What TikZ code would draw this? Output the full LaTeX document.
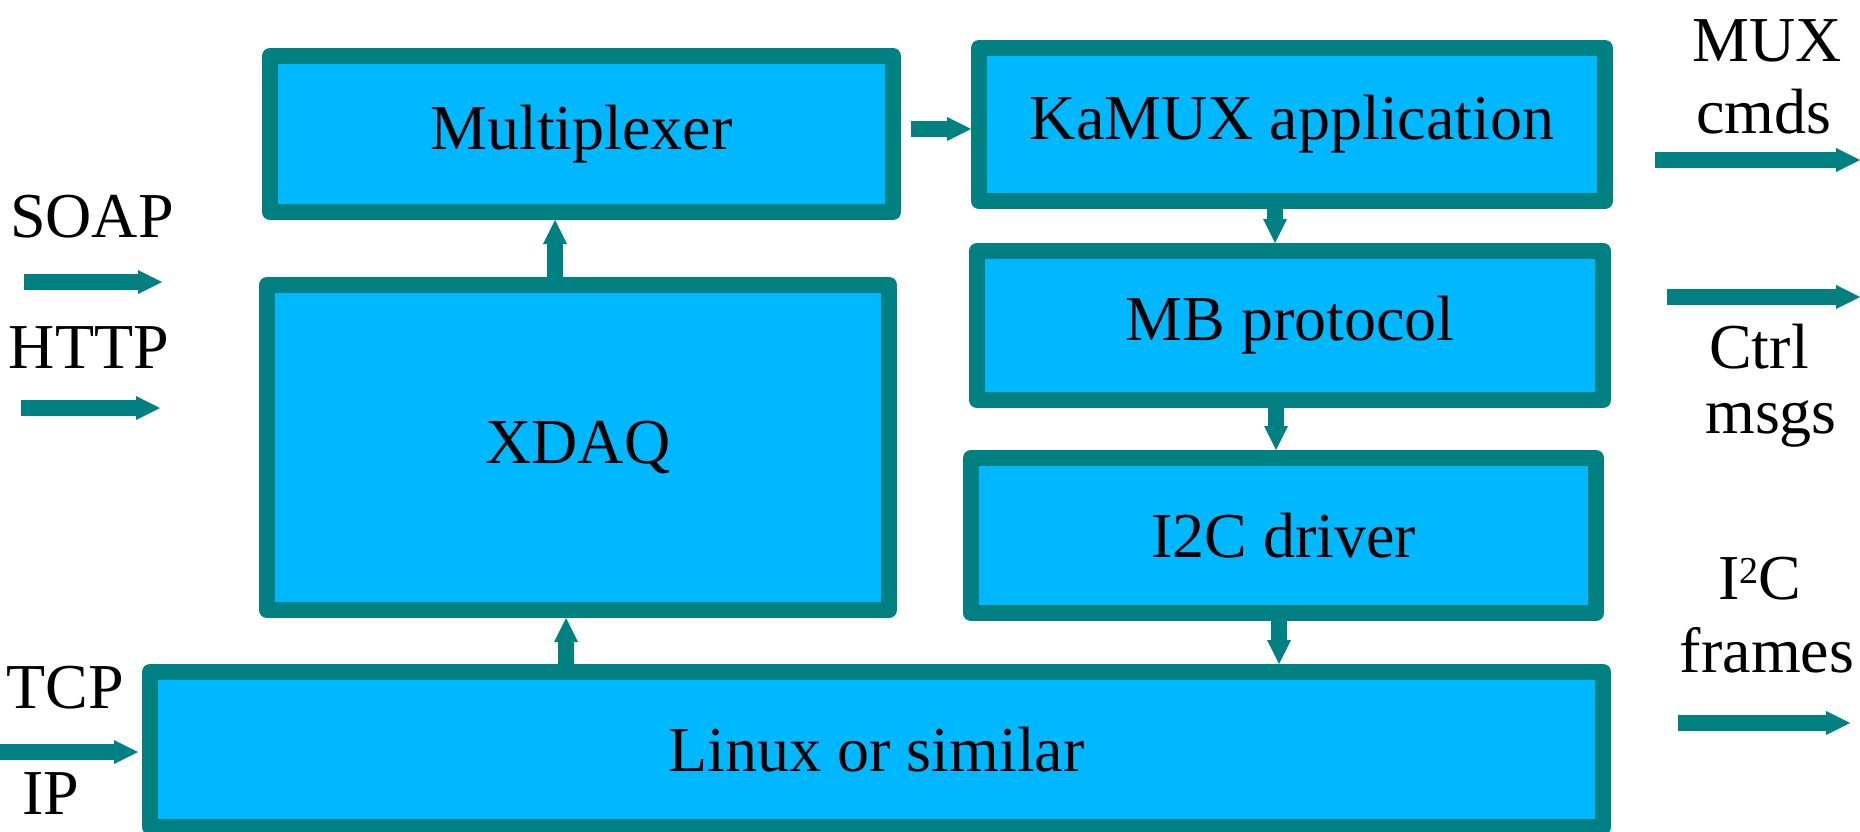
\documentclass[tikz,border=0pt]{standalone}
\usepackage{fontspec}
\setmainfont{Liberation Serif}
\usetikzlibrary{arrows.meta}
\definecolor{tealb}{RGB}{0,128,128}
\definecolor{cyanb}{RGB}{0,184,255}
\tikzset{
 blk/.style={draw=tealb, fill=cyanb, line width=16pt, line join=round, inner sep=0pt, font=\fontsize{64}{72}\selectfont},
 arr/.style={draw=tealb, line width=16pt, -{Triangle[width=24pt,length=24pt,line width=0pt]}},
 lbl/.style={anchor=base, inner sep=0pt, font=\fontsize{64}{72}\selectfont},
}
\begin{document}
\begin{tikzpicture}[x=1pt,y=-1pt]
\useasboundingbox (0,0) rectangle (1860,832);
% blocks
\node[blk, minimum width=623pt, minimum height=156pt] (mux) at (581.5,134) {Multiplexer};
\node[blk, minimum width=626pt, minimum height=153pt] (kamux) at (1292,124.5) {KaMUX application};
\node[blk, minimum width=626pt, minimum height=149pt] (mb) at (1290,325.5) {MB protocol};
\node[blk, minimum width=625pt, minimum height=155pt] (i2c) at (1283.5,535.5) {I2C driver};
\node[blk, minimum width=622pt, minimum height=325pt] (xdaq) at (578,447.5) {XDAQ};
\node[blk, minimum width=1453pt, minimum height=155pt] (linux) at (876.5,749.5) {Linux or similar};
% labels
\node[lbl] (soap) at (92,237) {SOAP};
\node[lbl] (http) at (89,368) {HTTP};
\node[lbl] (tcp) at (65,708) {TCP};
\node[lbl] (ip) at (51,814) {IP};
\node[lbl] (muxl) at (1767,62) {MUX};
\node[lbl] (cmds) at (1764,134) {cmds};
\node[lbl] (ctrl) at (1759,368) {Ctrl};
\node[lbl] (msgs) at (1771,433) {msgs};
\node[lbl] (iic) at (1760,599) {I\raisebox{16pt}{\fontsize{38}{40}\selectfont 2}C};
\node[lbl] (frames) at (1767,672) {frames};
% free arrow ends
\coordinate (soapA) at (24,282);
\coordinate (soapB) at (162,282);
\coordinate (httpA) at (21,408);
\coordinate (httpB) at (160,408);
\coordinate (tcpA) at (0,752);
\coordinate (muxA) at (1655,160);
\coordinate (muxB) at (1860,160);
\coordinate (ctrlA) at (1667,297);
\coordinate (ctrlB) at (1860,297);
\coordinate (frA) at (1678,723);
\coordinate (frB) at (1850,723);
% arrows
\draw[arr] (soapA) -- (soapB);
\draw[arr] (httpA) -- (httpB);
\draw[arr, shorten >=4pt] (tcpA) -- (tcpA -| linux.west);
\draw[arr] (muxA) -- (muxB);
\draw[arr] (ctrlA) -- (ctrlB);
\draw[arr] (frA) -- (frB);
\draw[arr, shorten <=10pt] ([yshift=5pt]mux.east) -- ([yshift=5pt]mux.east -| kamux.west);
\draw[arr] ([xshift=-23pt]xdaq.north) -- ([xshift=-23pt]xdaq.north |- mux.south);
\draw[arr] ([xshift=-12pt]xdaq.south |- linux.north) -- ([xshift=-12pt]xdaq.south);
\draw[arr] ([xshift=-17pt]kamux.south) -- ([xshift=-17pt]kamux.south |- mb.north);
\draw[arr] ([xshift=-14pt]mb.south) -- ([xshift=-14pt]mb.south |- i2c.north);
\draw[arr] ([xshift=-4.5pt]i2c.south) -- ([xshift=-4.5pt]i2c.south |- linux.north);
\end{tikzpicture}
\end{document}
